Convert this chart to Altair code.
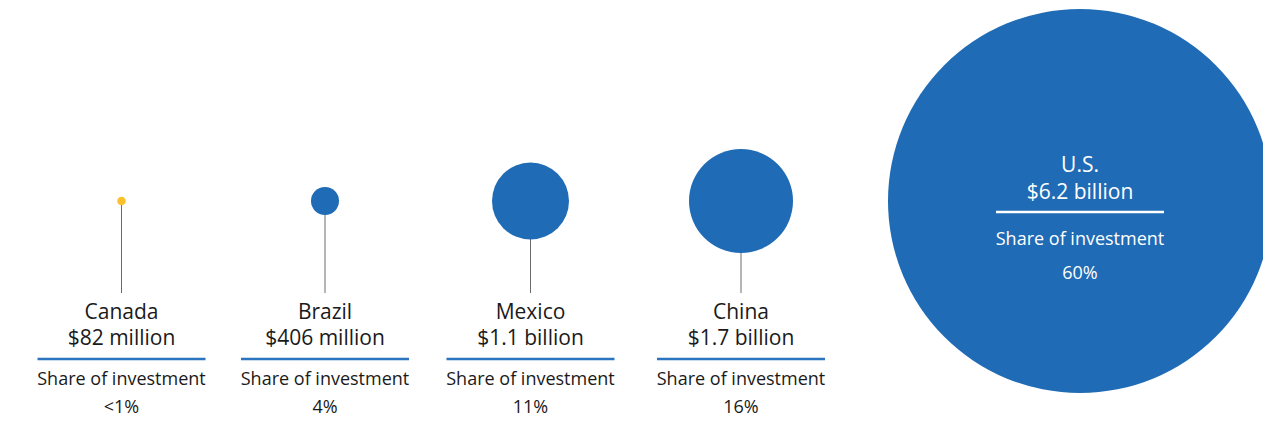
import altair as alt
import pandas as pd

# ---- data ----
countries = ["Canada", "Brazil", "Mexico", "China", "U.S."]
investment_bn = [0.082, 0.406, 1.1, 1.7, 6.2]
value_labels = ["$82 million", "$406 million", "$1.1 billion", "$1.7 billion", "$6.2 billion"]
share_labels = ["<1%", "4%", "11%", "16%", "60%"]
share_title = ["Share of investment"] * 5
slot = [0, 1, 2, 3, 4]

df = pd.DataFrame({
    "country": countries,
    "value": investment_bn,
    "label": value_labels,
    "share": share_labels,
    "share_title": share_title,
    "slot": slot,
})

FONT = "Open Sans"
BLUE = "#1f6bb5"
YELLOW = "#fbc02d"
TEXT = "#1a1a1a"
LINE_BLUE = "#2b74c0"
BIG = 21
SMALL = 18

x_enc = alt.X("slot:Q", axis=None,
              scale=alt.Scale(domain=[0, 1, 2, 3, 4], range=[113.5, 317, 522.5, 733, 1072]))

base = alt.Chart(df)
small = base.transform_filter("datum.slot < 4")
big = base.transform_filter("datum.slot == 4")

CY = 193

stems = small.mark_rule(color="#6b6b6b", strokeWidth=1).encode(
    x=x_enc, y=alt.value(CY), y2=alt.value(285)
)

circles = base.mark_circle(opacity=1).encode(
    x=x_enc,
    y=alt.value(CY),
    size=alt.Size("value:Q", legend=None,
                  scale=alt.Scale(domain=investment_bn,
                                  range=[72, 784, 5929, 10816, 147456])),
    color=alt.Color("country:N", legend=None,
                    scale=alt.Scale(domain=countries,
                                    range=[YELLOW, BLUE, BLUE, BLUE, BLUE])),
)

def txt(src, field, y, size, color):
    return src.mark_text(align="center", baseline="alphabetic", font=FONT,
                         fontSize=size, color=color).encode(
        x=x_enc, y=alt.value(y), text=f"{field}:N")

def uline(src, y, color):
    return src.mark_rule(color=color, strokeWidth=2.5, xOffset=-84, x2Offset=84).encode(
        x=x_enc, x2="slot:Q", y=alt.value(y))

layers = [
    stems, circles,
    txt(small, "country", 311, BIG, TEXT),
    txt(small, "label", 337, BIG, TEXT),
    uline(small, 351, LINE_BLUE),
    txt(small, "share_title", 377, SMALL, TEXT),
    txt(small, "share", 405, SMALL, TEXT),
    txt(big, "country", 164, BIG, "white"),
    txt(big, "label", 190.5, BIG, "white"),
    uline(big, 204, "white"),
    txt(big, "share_title", 236.5, SMALL, "white"),
    txt(big, "share", 271, SMALL, "white"),
]

chart = alt.layer(*layers).properties(
    width=1255, height=411, padding=0, autosize=alt.AutoSizeParams(type="none")
).configure_view(stroke=None)

chart.save("out.html", embed_options={"renderer": "svg", "actions": False})
